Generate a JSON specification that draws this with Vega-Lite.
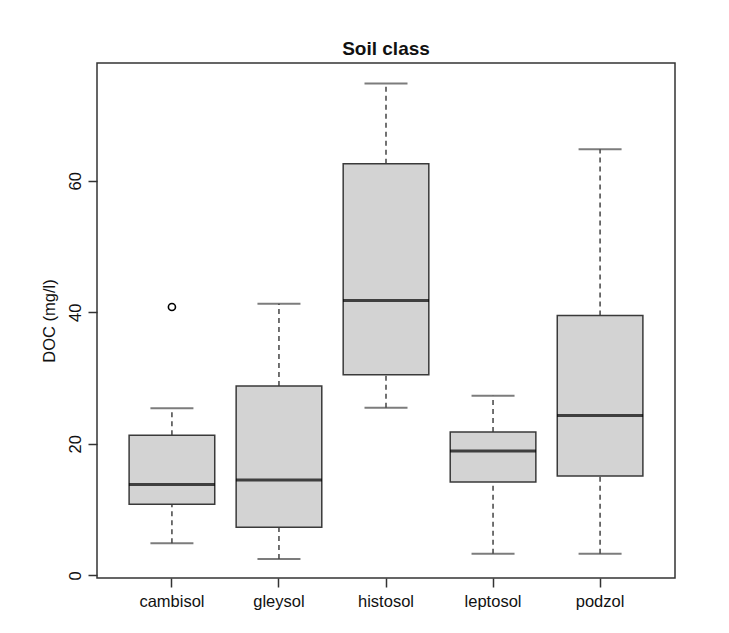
{
  "$schema": "https://vega.github.io/schema/vega-lite/v6.json",
  "width": 578,
  "height": 515,
  "autosize": {"type": "none"},
  "padding": {"left": 97, "top": 63, "right": 54, "bottom": 55},
  "background": "white",
  "config": {
    "font": "Liberation Sans",
    "view": {"stroke": "#333333", "strokeWidth": 1.5},
    "axis": {"grid": false, "labelColor": "#111111", "titleColor": "#111111", "tickColor": "#333333", "domain": false}
  },
  "title": {"text": "Soil class", "fontSize": 19, "fontWeight": "bold", "font": "Liberation Sans", "color": "#111111", "anchor": "middle", "offset": 4},
  "datasets": {
    "stats": [
      {"soil": "cambisol", "lower": 4.9, "q1": 10.8, "median": 13.8, "q3": 21.3, "upper": 25.4},
      {"soil": "gleysol", "lower": 2.5, "q1": 7.3, "median": 14.5, "q3": 28.8, "upper": 41.3},
      {"soil": "histosol", "lower": 25.5, "q1": 30.5, "median": 41.8, "q3": 62.6, "upper": 74.8},
      {"soil": "leptosol", "lower": 3.3, "q1": 14.2, "median": 18.9, "q3": 21.8, "upper": 27.3},
      {"soil": "podzol", "lower": 3.3, "q1": 15.1, "median": 24.3, "q3": 39.5, "upper": 64.8}
    ],
    "outliers": [
      {"soil": "cambisol", "value": 40.8}
    ]
  },
  "data": {"name": "stats"},
  "encoding": {
    "x": {
      "field": "soil", "type": "nominal",
      "scale": {"domain": ["cambisol", "gleysol", "histosol", "leptosol", "podzol"], "paddingInner": 0, "paddingOuter": 0.2},
      "axis": {"title": null, "labelAngle": 0, "labelFontSize": 16.5, "tickSize": 9, "tickWidth": 1.5, "labelPadding": 6}
    }
  },
  "layer": [
    {
      "mark": {"type": "rule", "color": "#444444", "strokeWidth": 1.5, "strokeDash": [5, 4]},
      "encoding": {
        "y": {"field": "lower", "type": "quantitative",
          "scale": {"domain": [-0.4, 77.9], "nice": false, "zero": false},
          "axis": {"title": "DOC (mg/l)", "values": [0, 20, 40, 60], "labelAngle": -90, "labelAlign": "center", "labelBaseline": "bottom", "labelFontSize": 16.5, "titleFontSize": 16.5, "titleFontWeight": "normal", "tickSize": 9, "tickWidth": 1.5, "labelPadding": 5, "titlePadding": 10}},
        "y2": {"field": "q1"}
      }
    },
    {
      "mark": {"type": "rule", "color": "#444444", "strokeWidth": 1.5, "strokeDash": [5, 4]},
      "encoding": {
        "y": {"field": "q3", "type": "quantitative"},
        "y2": {"field": "upper"}
      }
    },
    {
      "mark": {"type": "tick", "color": "#444444", "thickness": 2, "size": 43, "orient": "horizontal"},
      "encoding": {"y": {"field": "lower", "type": "quantitative"}}
    },
    {
      "mark": {"type": "tick", "color": "#444444", "thickness": 2, "size": 43, "orient": "horizontal"},
      "encoding": {"y": {"field": "upper", "type": "quantitative"}}
    },
    {
      "mark": {"type": "bar", "fill": "#d3d3d3", "stroke": "#3a3a3a", "strokeWidth": 1.5, "width": {"band": 0.8}},
      "encoding": {
        "y": {"field": "q1", "type": "quantitative"},
        "y2": {"field": "q3"}
      }
    },
    {
      "mark": {"type": "tick", "color": "#000000", "thickness": 3, "size": 86, "orient": "horizontal"},
      "encoding": {"y": {"field": "median", "type": "quantitative"}}
    },
    {
      "data": {"name": "outliers"},
      "mark": {"type": "point", "shape": "circle", "filled": false, "stroke": "#000000", "strokeWidth": 1.6, "size": 50, "opacity": 1},
      "encoding": {"y": {"field": "value", "type": "quantitative"}}
    }
  ]
}
